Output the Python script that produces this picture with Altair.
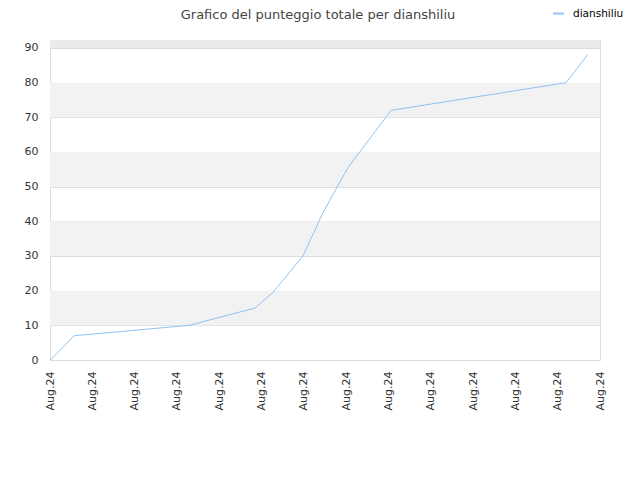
import altair as alt
import pandas as pd

# Data
times = [
    "2024-08-01T00:20", "2024-08-01T13:40", "2024-08-04T07:00", "2024-08-05T20:24",
    "2024-08-06T06:30", "2024-08-06T23:30", "2024-08-07T10:50", "2024-08-08T01:00",
    "2024-08-09T01:30", "2024-08-13T04:50", "2024-08-13T16:50",
]
scores = [0, 7, 10, 15, 19.5, 30, 42.5, 55.5, 72, 80, 88]
series_name = "dianshiliu"
chart_title = "Grafico del punteggio totale per dianshiliu"

band_starts = [10, 30, 50, 70, 90]
band_ends = [20, 40, 60, 80, 92.3]
band_colors = ["#f2f2f2", "#f2f2f2", "#f2f2f2", "#f2f2f2", "#ebebeb"]

y_ticks = [0, 10, 20, 30, 40, 50, 60, 70, 80, 90]
x_start = "2024-08-01T00:00"
x_end = "2024-08-14T00:00"

df = pd.DataFrame({"t": times, "score": scores, "series": [series_name] * len(times)})
bands = pd.DataFrame({"y0": band_starts, "y1": band_ends, "c": band_colors})

y_scale = alt.Scale(domain=[0, 92.3], nice=False, zero=True)
x_scale = alt.Scale(domain=[x_start, x_end], nice=False)

y_axis = alt.Axis(
    title=None,
    values=y_ticks,
    labelFontSize=11,
    labelColor="#333333",
    labelFont="DejaVu Sans",
    labelPadding=12,
    ticks=False,
    domain=False,
    grid=True,
    gridColor="#dddddd",
    gridWidth=1,
)

band_layer = alt.Chart(bands).mark_rect().encode(
    x=alt.value(0),
    x2=alt.value(550),
    y=alt.Y("y0:Q", scale=y_scale, axis=y_axis),
    y2="y1:Q",
    fill=alt.Fill("c:N", scale=None, legend=None),
)

line_layer = alt.Chart(df).mark_line(strokeWidth=1, interpolate="linear").encode(
    x=alt.X(
        "t:T",
        scale=x_scale,
        axis=alt.Axis(
            title=None,
            tickCount=alt.TickCount(interval="day", step=1),
            labelExpr="'Aug.24'",
            labelAngle=270,
            labelAlign="right",
            labelBaseline="middle",
            labelFontSize=11,
            labelColor="#333333",
            labelFont="DejaVu Sans",
            labelPadding=11,
            ticks=False,
            domain=False,
            grid=False,
            labelOverlap=False,
            labelFlush=False,
        ),
    ),
    y=alt.Y("score:Q", scale=y_scale, axis=y_axis),
    color=alt.Color(
        "series:N",
        scale=alt.Scale(range=["#90c2f2"]),
        legend=alt.Legend(
            title=None,
            orient="none",
            legendX=502,
            legendY=-33,
            symbolType="stroke",
            symbolSize=120,
            symbolStrokeWidth=2,
            labelOffset=8,
            labelFontSize=10.5,
            labelColor="#000000",
            labelFont="DejaVu Sans",
        ),
    ),
)

title_layer = alt.Chart(pd.DataFrame({"title": [chart_title]})).mark_text(
    font="DejaVu Sans",
    fontSize=13,
    color="#444444",
    align="center",
    baseline="alphabetic",
).encode(
    x=alt.value(268),
    y=alt.value(-21),
    text="title:N",
)

chart = (
    alt.layer(band_layer, line_layer, title_layer)
    .properties(
        width=550,
        height=320,
        autosize=alt.AutoSizeParams(type="none"),
        padding={"left": 42, "top": 32, "right": 30, "bottom": 112},
    )
    .configure_view(stroke="#dddddd", strokeWidth=1)
    .configure(background="white")
)

chart.save("out.html", embed_options={"renderer": "svg", "actions": False})
